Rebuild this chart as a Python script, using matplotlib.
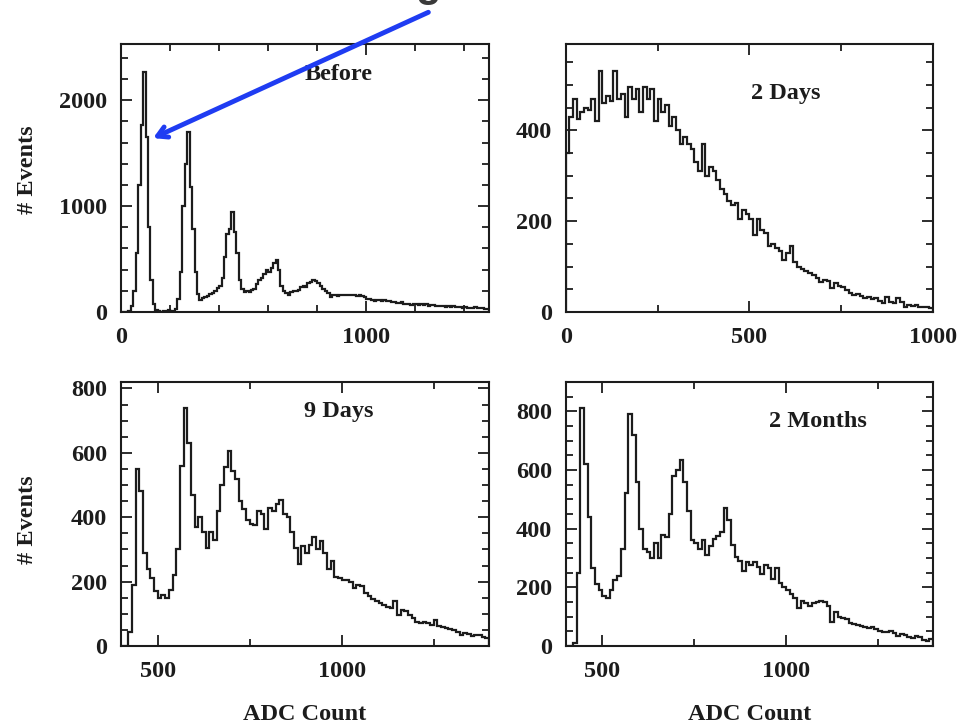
import numpy as np
import matplotlib
matplotlib.use('Agg')
import matplotlib.pyplot as plt
from matplotlib.ticker import MultipleLocator, NullFormatter

plt.rcParams['font.family'] = ['Liberation Serif', 'DejaVu Serif']
plt.rcParams['font.weight'] = 'bold'

# bin width 10 ADC counts for every panel
bin_w = 10

# "Before": bins starting at 0
before_start = 0
before_counts = [
    0, 0, 0, 10, 60, 200, 560, 1200, 1770, 2270,
    1650, 800, 300, 80, 20, 10, 0, 10, 5, 15,
    5, 10, 30, 120, 380, 1000, 1400, 1700, 1180, 780,
    380, 170, 110, 130, 140, 150, 170, 175, 200, 230,
    250, 320, 520, 740, 780, 940, 760, 560, 300, 220,
    190, 200, 185, 210, 220, 260, 300, 320, 360, 400,
    380, 420, 460, 490, 400, 250, 200, 175, 160, 185,
    200, 200, 210, 240, 250, 240, 270, 280, 300, 290,
    270, 250, 220, 200, 180, 145, 160, 160, 155, 165,
    160, 165, 160, 160, 160, 165, 155, 160, 150, 140,
    125, 120, 110, 105, 115, 110, 100, 115, 105, 100,
    95, 90, 85, 85, 90, 80, 75, 80, 70, 75,
    75, 70, 80, 70, 75, 60, 65, 70, 60, 55,
    60, 55, 50, 55, 45, 55, 50, 45, 50, 40,
    45, 40, 40, 35, 45, 40, 35, 35, 30, 30,
]

# "2 Days": bins starting at 0
days2_start = 0
days2_counts = [
    350, 430, 470, 425, 440, 450, 445, 470, 420, 530,
    460, 475, 465, 530, 470, 480, 430, 495, 470, 490,
    440, 495, 470, 490, 420, 470, 440, 455, 410, 430,
    400, 370, 385, 370, 360, 330, 310, 370, 300, 320,
    310, 290, 270, 260, 245, 235, 240, 205, 225, 215,
    205, 170, 205, 180, 175, 145, 150, 140, 135, 115,
    130, 145, 110, 100, 95, 90, 85, 82, 75, 67,
    70, 68, 52, 64, 57, 55, 48, 42, 38, 40,
    36, 30, 33, 28, 30, 24, 19, 34, 22, 20,
    30, 22, 12, 16, 14, 16, 12, 10, 12, 8,
]

# "9 Days": bins starting at 400
days9_start = 400
days9_counts = [
    0, 0, 45, 190, 550, 480, 290, 240, 210, 170,
    150, 160, 150, 175, 220, 300, 560, 740, 630, 470,
    370, 400, 355, 305, 355, 330, 420, 500, 555, 605,
    545, 520, 450, 425, 390, 380, 375, 420, 410, 365,
    430, 420, 440, 455, 410, 400, 355, 305, 255, 310,
    290, 315, 340, 300, 325, 290, 240, 265, 215, 210,
    205, 205, 200, 180, 190, 185, 165, 155, 145, 140,
    135, 128, 120, 118, 139, 97, 113, 108, 95, 87,
    75, 71, 76, 70, 66, 81, 61, 58, 56, 53,
    51, 45, 35, 40, 38, 30, 33, 35, 28, 25,
]

# "2 Months": bins starting at 400
months2_start = 400
months2_counts = [
    0, 0, 10, 250, 810, 620, 440, 265, 210, 190,
    170, 165, 190, 225, 240, 330, 520, 790, 720, 560,
    400, 330, 320, 300, 350, 300, 380, 370, 450, 580,
    600, 635, 560, 460, 360, 350, 330, 360, 310, 340,
    365, 375, 390, 470, 430, 345, 305, 290, 255, 285,
    275, 285, 270, 245, 275, 265, 230, 265, 215, 200,
    190, 178, 162, 128, 155, 145, 138, 145, 150, 155,
    150, 138, 82, 115, 100, 95, 92, 80, 75, 70,
    68, 64, 62, 64, 58, 52, 48, 47, 52, 45,
    35, 40, 38, 30, 29, 35, 30, 20, 18, 24,
]

panel_titles = ['Before', '2 Days', '9 Days', '2 Months']

ink = '#1c1c1c'
fs = 17.5
fig = plt.figure(figsize=(9.61, 7.27), dpi=100)

ax_tl = fig.add_axes([0.1259, 0.5708, 0.3829, 0.3686])
ax_tr = fig.add_axes([0.5887, 0.5708, 0.3822, 0.3686])
ax_bl = fig.add_axes([0.1259, 0.1114, 0.3829, 0.3631])
ax_br = fig.add_axes([0.5887, 0.1114, 0.3822, 0.3631])


def draw_hist(ax, start, counts):
    edges = start + bin_w * np.arange(len(counts) + 1)
    ax.stairs(counts, edges, color=ink, lw=1.6, baseline=0)


def style_axes(ax, xmaj, xmin, ymaj, ymin):
    ax.xaxis.set_major_locator(MultipleLocator(xmaj))
    ax.xaxis.set_minor_locator(MultipleLocator(xmin))
    ax.yaxis.set_major_locator(MultipleLocator(ymaj))
    ax.yaxis.set_minor_locator(MultipleLocator(ymin))
    ax.yaxis.set_minor_formatter(NullFormatter())
    ax.tick_params(which='both', direction='in', top=True, right=True,
                   colors=ink, width=1.3, labelsize=fs)
    ax.tick_params(which='major', length=8)
    ax.tick_params(which='minor', length=5)
    ax.tick_params(axis='x', pad=11)
    ax.tick_params(axis='y', pad=10)
    for s in ax.spines.values():
        s.set_linewidth(1.5)
        s.set_color(ink)


draw_hist(ax_tl, before_start, before_counts)
ax_tl.set_xlim(0, 1500)
ax_tl.set_ylim(0, 2530)
style_axes(ax_tl, 1000, 200, 1000, 200)

draw_hist(ax_tr, days2_start, days2_counts)
ax_tr.set_xlim(0, 1000)
ax_tr.set_ylim(0, 590)
style_axes(ax_tr, 500, 250, 200, 50)

draw_hist(ax_bl, days9_start, days9_counts)
ax_bl.set_xlim(400, 1400)
ax_bl.set_ylim(0, 820)
style_axes(ax_bl, 500, 250, 200, 50)

draw_hist(ax_br, months2_start, months2_counts)
ax_br.set_xlim(400, 1400)
ax_br.set_ylim(0, 900)
style_axes(ax_br, 500, 250, 200, 50)

title_pos = [(0.59, 0.888), (0.60, 0.816), (0.592, 0.887), (0.686, 0.85)]
for ax, t, (tx, ty) in zip([ax_tl, ax_tr, ax_bl, ax_br], panel_titles, title_pos):
    ax.text(tx, ty, t, transform=ax.transAxes, ha='center', va='center',
            fontsize=fs, fontweight='bold', color=ink)

for ax, ly in [(ax_tl, 0.53), (ax_bl, 0.477)]:
    ax.set_ylabel('# Events', fontsize=fs, fontweight='bold', color=ink)
    ax.yaxis.set_label_coords(-0.225, ly)

for ax in [ax_bl, ax_br]:
    ax.set_xlabel('ADC Count', fontsize=fs, fontweight='bold', color=ink)
    ax.xaxis.set_label_coords(0.5, -0.22)

# blue arrow pointing at the first peak
ax_tl.annotate('', xy=(131, 1642), xytext=(1253, 2830), annotation_clip=False,
               arrowprops=dict(arrowstyle='->,head_length=0.7,head_width=0.4',
                               color='#1f3cf2', lw=3.5, shrinkA=0, shrinkB=0))

# cropped letter at the top edge of the source image
fig.text(0.445, 1.0 + 4 / 727, 'g', ha='center', va='baseline', fontsize=30,
         color='#3a3a3a', family='Liberation Sans', fontweight='bold')

fig.savefig('out.png', dpi=100)
